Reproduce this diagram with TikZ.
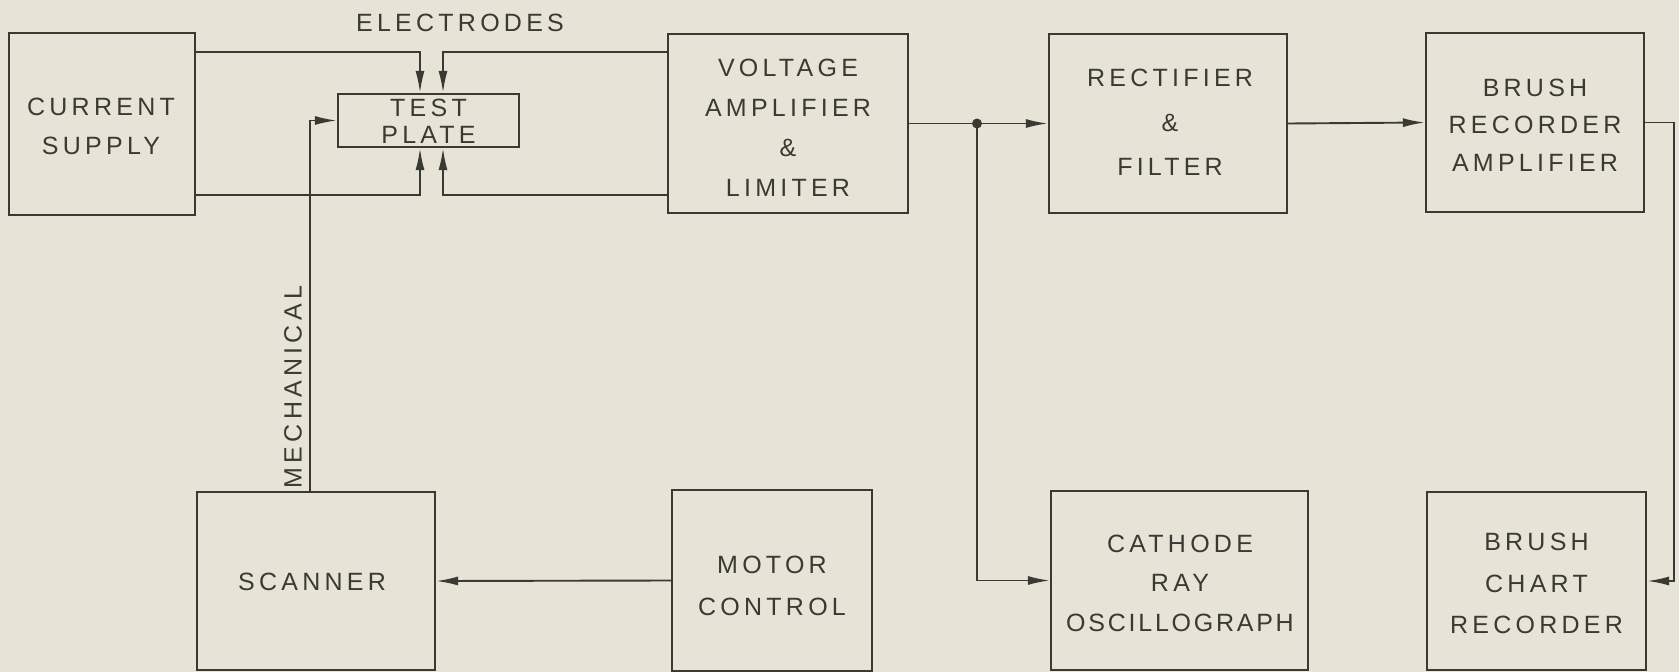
\documentclass[tikz,border=0pt]{standalone}
\usepackage{fontspec}
\setmainfont{Liberation Sans}[LetterSpace=17]
\usepackage{tikz}
\usetikzlibrary{arrows.meta}
\definecolor{paper}{RGB}{231,228,215}
\definecolor{ink}{RGB}{58,58,52}

\tikzset{
  block/.style={draw=ink,line width=2.2pt,inner sep=0pt},
  txt/.style={align=center,inner sep=0pt,text=ink},
  wire/.style={draw=ink,line width=1.9pt},
  arr/.style={wire,-{Latex[length=22pt,width=9pt]}}
}
\newcommand{\lines}[1]{\fontsize{25}{#1}\selectfont}

\begin{document}
\begin{tikzpicture}[x=1pt,y=-1pt,font=\lines{40}]

% fondo
\fill[paper] (0,0) rectangle (1679,672);
\useasboundingbox (0,0) rectangle (1679,672);

% bloques fila de arriba
\node[block,minimum width=186pt,minimum height=182pt] (supply) at (102,124) {};
\node[block,minimum width=181pt,minimum height=53pt] (plate) at (428.5,120.5) {};
\node[block,minimum width=240pt,minimum height=179pt] (vamp) at (788,123.5) {};
\node[block,minimum width=238pt,minimum height=179pt] (rect) at (1168,123.5) {};
\node[block,minimum width=218pt,minimum height=179pt] (bamp) at (1535,122.5) {};

% bloques fila de abajo
\node[block,minimum width=238pt,minimum height=178pt] (scan) at (316,581) {};
\node[block,minimum width=200pt,minimum height=181pt] (motor) at (772,580.5) {};
\node[block,minimum width=257pt,minimum height=179pt] (cro) at (1179.5,580.5) {};
\node[block,minimum width=219pt,minimum height=178pt] (chart) at (1536.5,581) {};

% textos
\node[txt,font=\lines{39}] (supplytxt) at (101,126.5) {CURRENT\\SUPPLY};
\node[txt,font=\lines{27}] (platetxt) at (428.5,121.5) {TEST\\PLATE};
\node[txt] (vamptxt) at (788,127.5) {VOLTAGE\\AMPLIFIER\\\&\\LIMITER};
\node[txt,font=\lines{44.5}] (recttxt) at (1170,122.5) {RECTIFIER\\\&\\FILTER};
\node[txt,font=\lines{37.5}] (bamptxt) at (1535,125) {BRUSH\\RECORDER\\AMPLIFIER};
\node[txt] (scantxt) at (312,582) {SCANNER};
\node[txt,font=\lines{42}] (motortxt) at (772,586) {MOTOR\\CONTROL};
\node[txt,font=\lines{39.5}] (crotxt) at (1180,583) {CATHODE\\RAY\\{\addfontfeatures{LetterSpace=11}OSCILLOGRAPH}};
\node[txt,font=\lines{41.5}] (charttxt) at (1536.5,583.5) {BRUSH\\CHART\\RECORDER};

% electrodos
\node[txt] (elec) at (460,23) {ELECTRODES};
\coordinate (eul) at (420,52);
\coordinate (eur) at (443,52);
\coordinate (edl) at (420,195);
\coordinate (edr) at (443,195);
\draw[arr] (supply.east |- eul) -- (eul) -- (eul |- plate.north);
\draw[arr] (vamp.west |- eur) -- (eur) -- (eur |- plate.north);
\draw[arr] (supply.east |- edl) -- (edl) -- (edl |- plate.south);
\draw[arr] (vamp.west |- edr) -- (edr) -- (edr |- plate.south);

% mecanico
\coordinate (mech) at (310,120.5);
\draw[arr] (scan.north -| mech) -- (mech) -- (plate.west);
\node[txt,rotate=90] (mechtxt) at (293,387) {MECHANICAL};

% senal
\coordinate (split) at (977,123.5);
\draw[arr] (vamp.east) -- (rect.west);
\fill[ink] (split) circle (5);
\draw[arr] (split) |- (cro.west);
\draw[arr] (rect.east) -- (bamp.west);
\coordinate (back) at (1674,300);
\draw[arr] (bamp.east) -- (bamp.east -| back) -- (chart.east -| back) -- (chart.east);

% motor
\draw[arr] (motor.west) -- (scan.east);

\end{tikzpicture}
\end{document}
